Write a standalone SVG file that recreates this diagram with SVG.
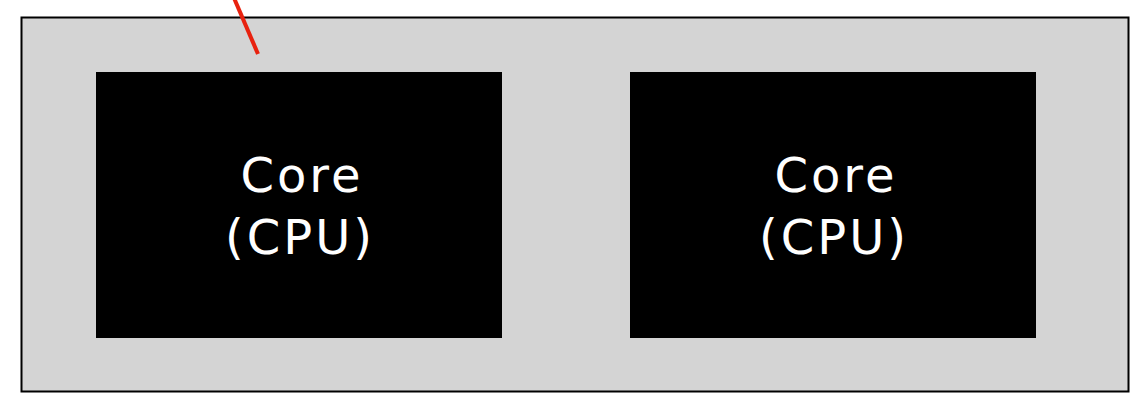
<svg xmlns="http://www.w3.org/2000/svg" width="1135" height="401" viewBox="0 0 1135 401">
<style>
.core{fill:#000}
.lbl{fill:#fff;font-family:"DejaVu Sans",sans-serif;font-size:48px;text-anchor:middle;letter-spacing:3px}
</style>
<rect width="1135" height="401" fill="#fff"/>
<g id="chip"><rect x="21.5" y="17.5" width="1107" height="374" fill="#d4d4d4" stroke="#000" stroke-width="2"/></g>
<g id="core1"><rect class="core" x="96" y="72" width="406" height="266"/>
<text class="lbl" x="302" y="192">Core</text><text class="lbl" x="300" y="254">(CPU)</text></g>
<g id="core2"><rect class="core" x="630" y="72" width="406" height="266"/>
<text class="lbl" x="836" y="192">Core</text><text class="lbl" x="834" y="254">(CPU)</text></g>
<g id="connectors"><line x1="234" y1="-2" x2="258" y2="54" stroke="#e8220f" stroke-width="4"/></g>
</svg>
